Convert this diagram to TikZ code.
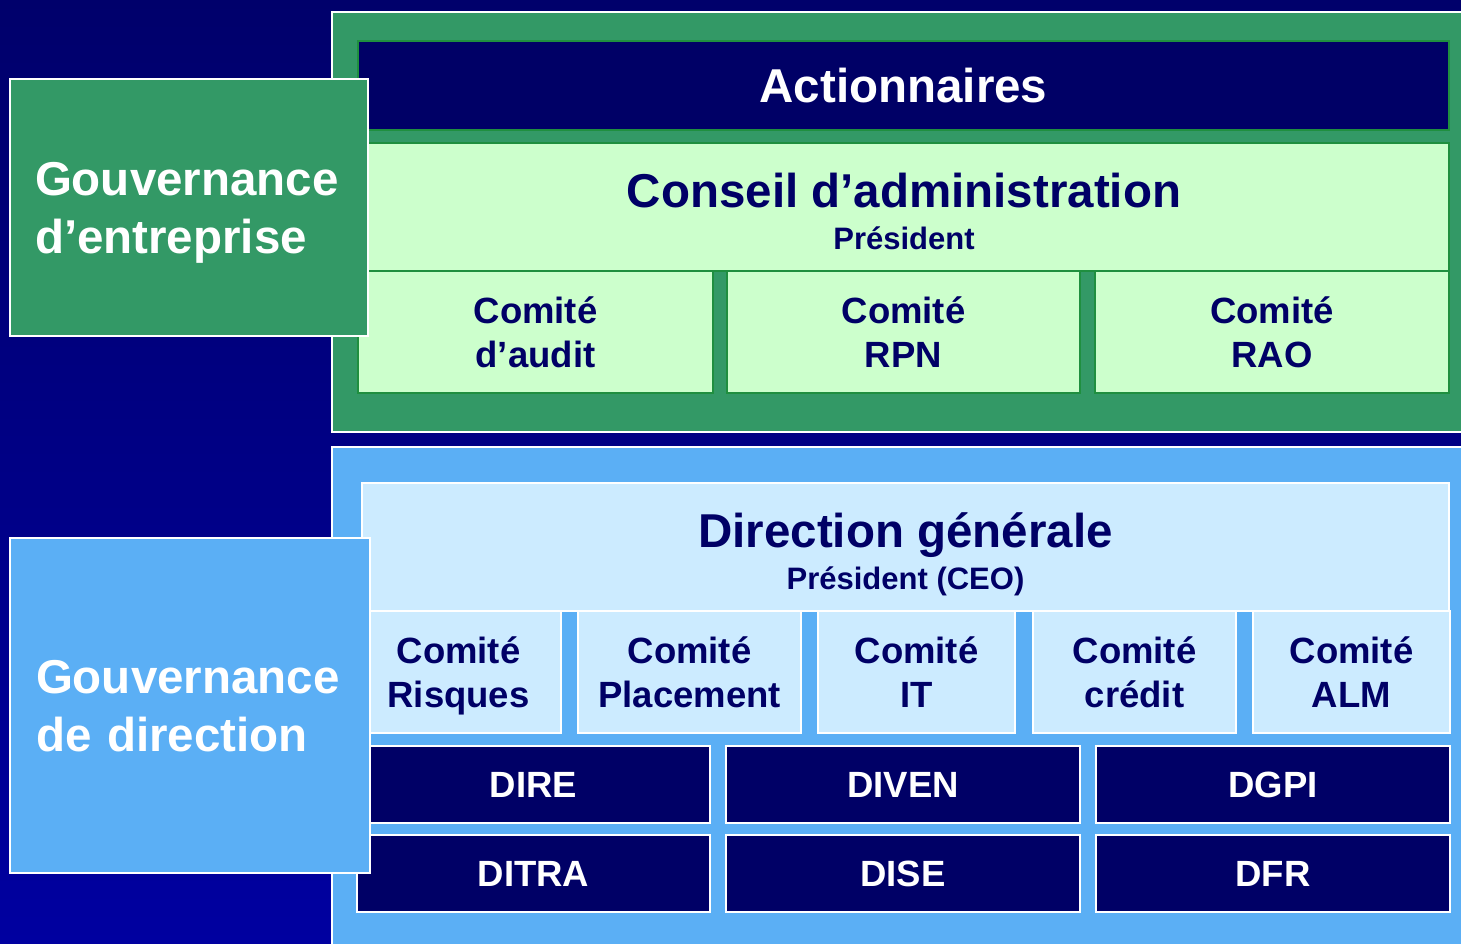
\documentclass[tikz,border=0pt]{standalone}
\usepackage{fontspec}
\setmainfont{Liberation Sans}
\definecolor{navy}{HTML}{000066}
\definecolor{grn}{HTML}{339966}
\definecolor{lgrn}{HTML}{1F8F3F}
\definecolor{mint}{HTML}{CCFFCC}
\definecolor{sky}{HTML}{5BAFF5}
\definecolor{ice}{HTML}{CCEBFF}
\definecolor{bgtop}{HTML}{00006B}
\definecolor{bgbot}{HTML}{0000A0}
\begin{document}
\begin{tikzpicture}[x=1pt,y=-1pt,inner sep=0pt,
    frame/.style={draw=white,line width=1.5pt},
    wh/.style 2 args={minimum width=#1,minimum height=#2},
    gpanel/.style={frame,fill=grn},
    bpanel/.style={frame,fill=sky},
    gbox/.style={draw=lgrn,line width=1.5pt,fill=mint,text=navy},
    bbox/.style={frame,fill=ice,text=navy},
    dbox/.style={frame,fill=navy,text=white},
    big/.style={font=\fontsize{47.5}{58}\selectfont\bfseries},
    mid/.style={font=\fontsize{36.5}{44}\selectfont\bfseries,align=center,text depth=0pt},
    sml/.style={font=\fontsize{31}{37}\selectfont\bfseries},
    gov/.style={big,text=white,text width=308,inner xsep=25,align=left,text depth=58pt}]
    \useasboundingbox (0,0) rectangle (1461,943);
    \clip (0,0) rectangle (1461,943);
    \shade [top color=bgtop,bottom color=bgbot] (0,0) rectangle (1461,943);
    % gouvernance d'entreprise
    \path (903.5,222) node (conseilZone) [gpanel,wh={1143}{420}] {}
    (903.5,85.5) node (actionnaires) [dbox,draw=lgrn,wh={1091}{89},big,text depth=0pt] {Actionnaires}
    (903.5,207) node (conseil) [gbox,wh={1091}{128}] {}
    (535.5,332) node (audit) [gbox,wh={355}{122},mid] {Comité\\d’audit}
    (903.5,332) node (rpn) [gbox,wh={353}{122},mid] {Comité\\RPN}
    (1272,332) node (rao) [gbox,wh={354}{122},mid] {Comité\\RAO};
    \path (904,207) node (conseilT) [anchor=base,big,text=navy] {Conseil d’administration}
    (904,249) node (conseilP) [anchor=base,sml,text=navy] {Président};
    \path (189,207.5) node (govE) [gpanel,wh={358}{257},gov] {Gouvernance\\d’entreprise};
    % gouvernance de direction
    \path (903.5,703.5) node (directionZone) [bpanel,wh={1143}{513}] {}
    (905.5,547) node (direction) [bbox,wh={1087}{128}] {}
    (458.5,672) node (risques) [bbox,wh={205}{122},mid] {Comité\\Risques}
    (689.5,672) node (placement) [bbox,wh={223}{122},mid] {Comité\\Placement}
    (916.5,672) node (it) [bbox,wh={197}{122},mid] {Comité\\IT}
    (1134.5,672) node (credit) [bbox,wh={203}{122},mid] {Comité\\crédit}
    (1351.5,672) node (alm) [bbox,wh={197}{122},mid] {Comité\\ALM}
    (533.5,784.5) node (dire) [dbox,wh={353}{77},mid] {DIRE}
    (903,784.5) node (diven) [dbox,wh={354}{77},mid] {DIVEN}
    (1273,784.5) node (dgpi) [dbox,wh={354}{77},mid] {DGPI}
    (533.5,873.5) node (ditra) [dbox,wh={353}{77},mid] {DITRA}
    (903,873.5) node (dise) [dbox,wh={354}{77},mid] {DISE}
    (1273,873.5) node (dfr) [dbox,wh={354}{77},mid] {DFR};
    \path (905.5,547) node (directionT) [anchor=base,big,text=navy] {Direction générale}
    (905.5,589) node (directionP) [anchor=base,sml,text=navy] {Président (CEO)};
    \path (190,705.5) node (govD) [bpanel,wh={360}{335},gov] {Gouvernance\\de direction};
\end{tikzpicture}
\end{document}
